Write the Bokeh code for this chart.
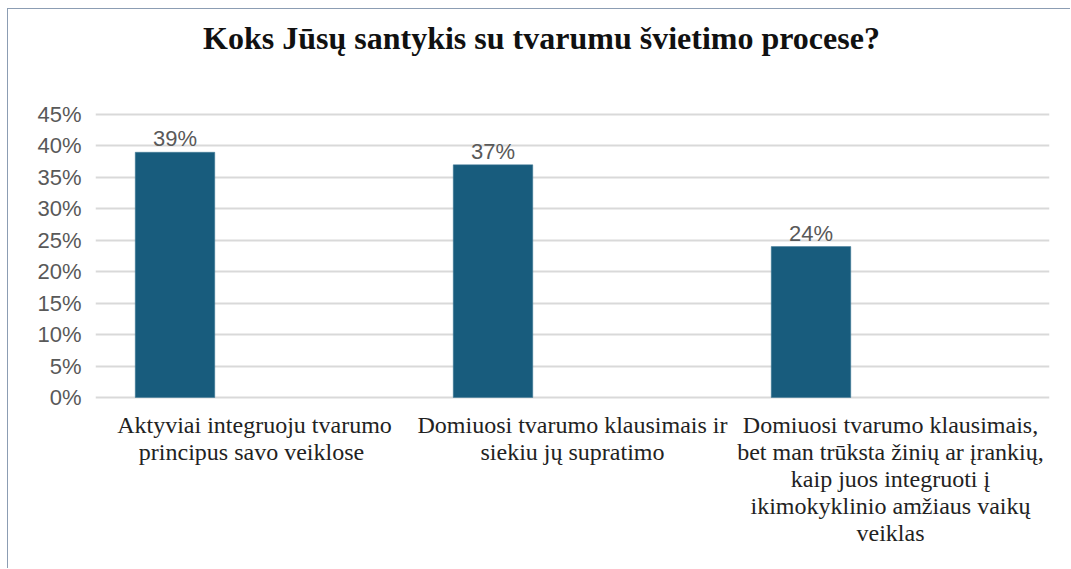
from bokeh.plotting import figure
from bokeh.models import Range1d, FixedTicker, NumeralTickFormatter
from bokeh.core.properties import value
from bokeh.embed import file_html
from bokeh.resources import INLINE

title_text = "Koks Jūsų santykis su tvarumu švietimo procese?"
categories = [
    "Aktyviai integruoju tvarumo\nprincipus  savo veiklose",
    "Domiuosi tvarumo klausimais ir\nsiekiu jų supratimo",
    "Domiuosi tvarumo klausimais,\nbet man trūksta žinių ar įrankių,\nkaip juos integruoti į\nikimokyklinio amžiaus vaikų\nveiklas",
]
values = [0.39, 0.37, 0.24]
value_labels = ["39%", "37%", "24%"]
y_ticks = [0.0, 0.05, 0.10, 0.15, 0.20, 0.25, 0.30, 0.35, 0.40, 0.45]

bar_color = "#185c7d"
grid_color = "#d9d9d9"
tick_color = "#595959"
serif = "'Liberation Serif', 'Times New Roman', serif"
sans = "'Liberation Sans', Arial, sans-serif"

# frame covers the whole canvas height; the plotted axis spans 0..45%
y_top = 0.617
y_bottom = -0.2735

p = figure(width=1063, height=560, output_backend="svg", toolbar_location=None,
           x_range=Range1d(0, 3), y_range=Range1d(y_bottom, y_top),
           x_axis_location=None,
           min_border_left=87, min_border_right=22, min_border_top=0,
           min_border_bottom=0)
p.outline_line_color = None
p.background_fill_color = "white"
p.border_fill_color = "white"
p.styles = {"margin-left": "7px", "margin-top": "8px",
            "border-left": "1px solid #8c9db3", "border-top": "1px solid #8c9db3"}

# title
p.text(x=[1.5], y=[y_ticks[-1]], text=[title_text], x_offset=-31, y_offset=-77,
       text_align="center", text_baseline="alphabetic", text_font=value(serif),
       text_font_style="bold", text_font_size="32px", text_color="#111111")

xs = [i + 0.25 for i in range(len(values))]
p.vbar(x=xs, top=values, width=0.25, fill_color=bar_color, line_color="#3f7896", line_width=0.5)
p.text(x=xs, y=values, text=value_labels, text_align="center", text_baseline="bottom",
       y_offset=-1, text_color=tick_color, text_font=value(sans),
       text_font_size="22px")

# category labels under the bars
cat_x = [i + 0.5 for i in range(len(categories))]
p.text(x=cat_x, y=[0] * len(categories), text=categories, y_offset=14,
       text_align="center", text_baseline="top", text_font=value(serif),
       text_font_size="24px", text_line_height=1.04, text_color="#222222")

# y axis
p.yaxis.ticker = FixedTicker(ticks=y_ticks)
p.yaxis.formatter = NumeralTickFormatter(format="0%")
p.yaxis.axis_line_color = None
p.yaxis.major_tick_line_color = None
p.yaxis.minor_tick_line_color = None
p.yaxis.major_tick_out = 0
p.yaxis.major_label_text_font = sans
p.yaxis.major_label_text_font_size = "22px"
p.yaxis.major_label_text_color = tick_color
p.yaxis.major_label_standoff = 14

p.xgrid.grid_line_color = None
p.ygrid.grid_line_color = grid_color
p.ygrid.grid_line_width = 2

open("out.html", "w").write(file_html(p, INLINE))
